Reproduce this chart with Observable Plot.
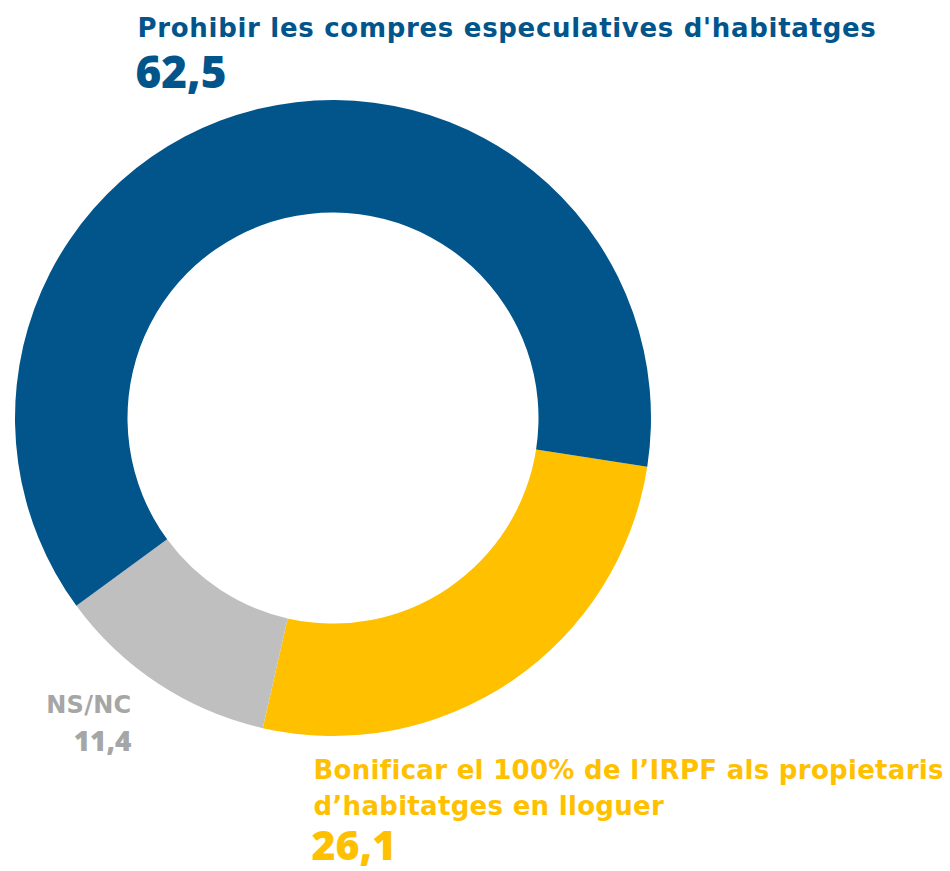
<!DOCTYPE html>
<html>
<head>
<meta charset="utf-8">
<script src="https://cdn.jsdelivr.net/npm/d3@7"></script>
<script src="https://cdn.jsdelivr.net/npm/@observablehq/plot@0.6"></script>
<style>
  html, body { margin: 0; padding: 0; background: #ffffff; }
  #chart { width: 950px; height: 871px; }
  #chart text[aria-label="title-label"] { letter-spacing: 0.7px; }
  #chart text[aria-label="yellow-label"] { letter-spacing: 0.3px; }
  #chart text[aria-label="grey-label"] { letter-spacing: 0.3px; }
</style>
</head>
<body>
<div id="chart"></div>
<script>
// ---- data ----
const categories = [
  "Bonificar el 100% de l’IRPF als propietaris d’habitatges en lloguer",
  "NS/NC",
  "Prohibir les compres especulatives d'habitatges"
];
const values = [26.1, 11.4, 62.5];

// ---- layout (pixels) ----
const W = 950, H = 871;
const CX = 333, CY = 418, R = 318, INNER = 205.5 / 318;
const START_DEG = 98.8; // yellow slice starts just below 3 o'clock

const rows = categories.map((category, i) => ({category, value: values[i]}));
const fmt = v => v.toFixed(1).replace(".", ",");

// pixel -> data units (center = 0, outer radius = 1, y up)
const ux = px => (px - CX) / R;
const uy = py => (CY - py) / R;

const pie = d3.pie().sort(null).value(d => d.value)
  .startAngle(START_DEG * Math.PI / 180)
  .endAngle(START_DEG * Math.PI / 180 + 2 * Math.PI);

function donut(index, scales) {
  const x0 = scales.x(0), y0 = scales.y(0), k = scales.x(1) - x0;
  const arc = d3.arc().innerRadius(k * INNER).outerRadius(k);
  const g = d3.create("svg:g").attr("transform", `translate(${x0},${y0})`);
  g.selectAll("path").data(pie(rows)).join("path")
    .attr("d", arc)
    .attr("fill", d => scales.color(d.data.category));
  return g.node();
}

const blue = categories[2], yellow = categories[0], grey = categories[1];
const yellowLines = ["Bonificar el 100% de l’IRPF als propietaris", "d’habitatges en lloguer"];

const labelFont = "DejaVu Sans";
const numFont = "Open Sans";
const plot = Plot.plot({
  width: W,
  height: H,
  margin: 0,
  x: {domain: [ux(0), ux(W)], axis: null},
  y: {domain: [uy(H), uy(0)], axis: null},
  color: {domain: categories, range: ["#FFC000", "#BFBFBF", "#02558B"]},
  style: {background: "#ffffff", fontFamily: numFont, overflow: "visible"},
  marks: [
    donut,
    // top label (blue)
    Plot.text(rows.filter(d => d.category === blue), {
      x: () => ux(137), y: () => uy(36), text: "category", fill: "category", ariaLabel: () => "title-label",
      textAnchor: "start", lineAnchor: "bottom", fontSize: 26, fontWeight: 700, fontFamily: labelFont
    }),
    Plot.text(rows.filter(d => d.category === blue), {
      x: () => ux(135), y: () => uy(87), text: d => fmt(d.value), fill: "category",
      textAnchor: "start", lineAnchor: "bottom", fontSize: 44, fontWeight: 800, fontFamily: numFont
    }),
    // bottom-right label (yellow)
    Plot.text(rows.filter(d => d.category === yellow), {
      x: () => ux(313), y: () => uy(778), text: () => yellowLines[0], fill: "category", ariaLabel: () => "yellow-label",
      textAnchor: "start", lineAnchor: "bottom", fontSize: 26, fontWeight: 700, fontFamily: labelFont
    }),
    Plot.text(rows.filter(d => d.category === yellow), {
      x: () => ux(313), y: () => uy(814), text: () => yellowLines[1], fill: "category", ariaLabel: () => "yellow-label",
      textAnchor: "start", lineAnchor: "bottom", fontSize: 26, fontWeight: 700, fontFamily: labelFont
    }),
    Plot.text(rows.filter(d => d.category === yellow), {
      x: () => ux(311), y: () => uy(859), text: d => fmt(d.value), fill: "category",
      textAnchor: "start", lineAnchor: "bottom", fontSize: 41, fontWeight: 800, fontFamily: numFont
    }),
    // bottom-left label (grey)
    Plot.text(rows.filter(d => d.category === grey), {
      x: () => ux(131), y: () => uy(712), text: "category", fill: "#A6A6A6", ariaLabel: () => "grey-label",
      textAnchor: "end", lineAnchor: "bottom", fontSize: 24, fontWeight: 700, fontFamily: labelFont
    }),
    Plot.text(rows.filter(d => d.category === grey), {
      x: () => ux(131), y: () => uy(750), text: d => fmt(d.value), fill: "#A6A6A6",
      textAnchor: "end", lineAnchor: "bottom", fontSize: 28, fontWeight: 800, fontFamily: numFont
    })
  ]
});

document.getElementById("chart").appendChild(plot);
</script>
</body>
</html>
